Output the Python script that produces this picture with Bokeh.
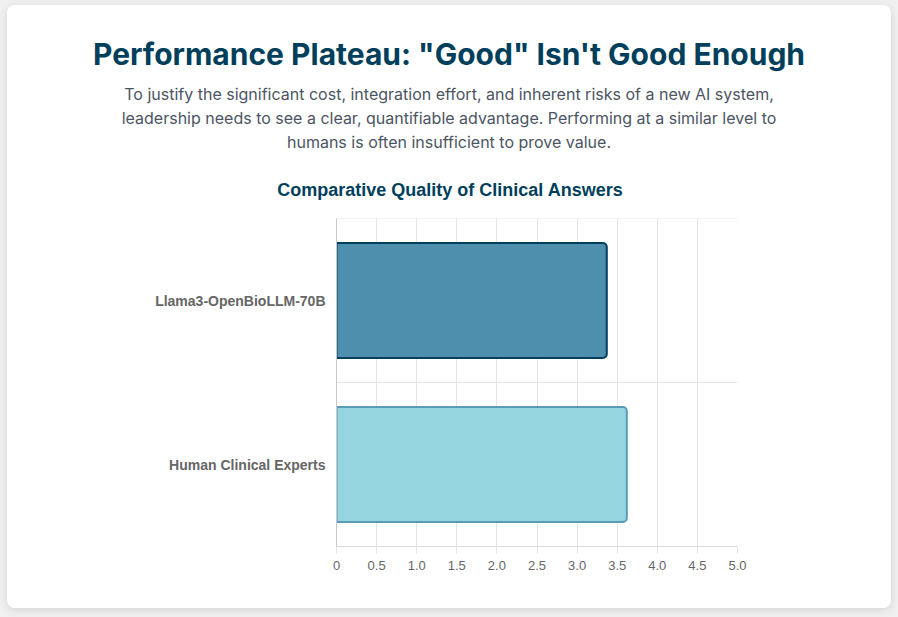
from bokeh.plotting import figure
from bokeh.models import Span, FixedTicker, PrintfTickFormatter, ColumnDataSource, Div
from bokeh.layouts import column
from bokeh.embed import file_html
from bokeh.resources import INLINE

# ---- data ----
categories = ["Llama3-OpenBioLLM-70B", "Human Clinical Experts"]
scores = [3.37, 3.62]
fill_colors = ["#4e8fae", "#94d5df"]
line_colors = ["#003f5c", "#5a9cb6"]
x_ticks = [0, 0.5, 1.0, 1.5, 2.0, 2.5, 3.0, 3.5, 4.0, 4.5, 5.0]

title_text = 'Performance Plateau: "Good" Isn\'t Good Enough'
subtitle_lines = [
    "To justify the significant cost, integration effort, and inherent risks of a new AI system,",
    "leadership needs to see a clear, quantifiable advantage. Performing at a similar level to",
    "humans is often insufficient to prove value.",
]
chart_title = "Comparative Quality of Clinical Answers"

TEAL = "#003f5c"
GRID = "#e5e5e5"

# ---- header (HTML text) ----
sub_html = "<br>".join(subtitle_lines)
header_html = (
    '<div style="width:884px;text-align:center;white-space:nowrap;padding-top:31px;">'
    f'<div style="font-family:Inter;font-weight:700;font-size:30px;line-height:36px;color:{TEAL};">{title_text}</div>'
    f'<div style="font-family:Inter;font-size:16px;line-height:24px;color:#4b5563;margin-top:10px;">{sub_html}</div>'
    f'<div style="font-family:\'Liberation Sans\';font-weight:700;font-size:18px;line-height:22px;color:{TEAL};margin-top:25px;padding-left:2px;">{chart_title}</div>'
    '</div>'
)
header = Div(text=header_html, width=884, height=196, styles={"margin": "0", "padding": "0"})

# ---- chart ----
src = ColumnDataSource(dict(cat=categories, score=scores, fill=fill_colors, line=line_colors))

p = figure(
    y_range=list(reversed(categories)),
    x_range=(0, 5),
    width=884, height=407,
    min_border_left=329, min_border_right=154,
    min_border_top=17, min_border_bottom=62,
    output_backend="svg", toolbar_location=None,
    background_fill_color="white", border_fill_color="white",
)
p.outline_line_color = None

p.hbar(y="cat", right="score", left=0, height=0.7, source=src,
       fill_color="fill", line_color="line", line_width=2,
       border_radius=(0, 4, 4, 0))

p.xgrid.ticker = FixedTicker(ticks=x_ticks)
p.xgrid.grid_line_color = GRID
p.ygrid.grid_line_color = None
for loc in [1.0, 2.0]:
    p.add_layout(Span(location=loc, dimension="width", line_color=GRID, line_width=1, level="underlay"))

p.xaxis.ticker = FixedTicker(ticks=x_ticks)
p.xaxis.formatter = PrintfTickFormatter(format="%.1f")
p.xaxis.major_label_overrides = {0: "0"}
p.xaxis.axis_line_color = "#d9d9d9"
p.xaxis.major_tick_line_color = GRID
p.xaxis.major_tick_out = 7
p.xaxis.major_tick_in = 0
p.xaxis.minor_tick_line_color = None
p.xaxis.major_label_standoff = 7
p.xaxis.major_label_text_font = "Liberation Sans"
p.xaxis.major_label_text_font_size = "13px"
p.xaxis.major_label_text_color = "#666666"

p.yaxis.axis_line_color = "#c8c8c8"
p.yaxis.major_tick_line_color = None
p.yaxis.major_tick_out = 0
p.yaxis.major_tick_in = 0
p.yaxis.minor_tick_line_color = None
p.yaxis.major_label_standoff = 11
p.yaxis.major_label_text_font = "Liberation Sans"
p.yaxis.major_label_text_font_style = "bold"
p.yaxis.major_label_text_font_size = "14px"
p.yaxis.major_label_text_color = "#666666"

card = column(header, p, width=884, styles={
    "background-color": "white", "border-radius": "8px",
    "box-shadow": "0 2px 8px rgba(0,0,0,0.12)", "margin-left": "7px", "margin-top": "5px",
    "overflow": "hidden",
})

html = file_html(card, INLINE)
html = html.replace("</head>", "<style>html, body { background-color:#f0f0f0 !important; margin:0 !important; }</style></head>", 1)
open("out.html", "w").write(html)
